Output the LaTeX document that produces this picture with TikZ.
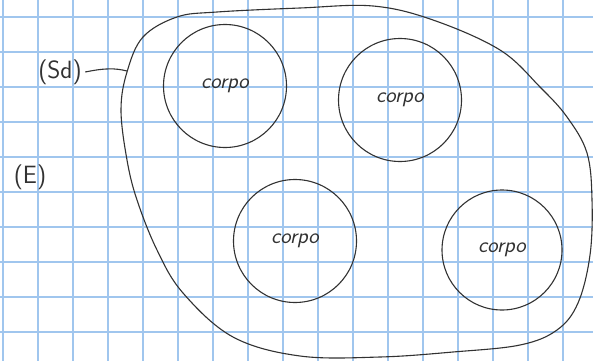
\documentclass[tikz,border=0pt]{standalone}
\usepackage{tikz}

\tikzset{
    gridline/.style={draw=gridblue, line width=1.7pt},
    corpo/.style={circle, draw=ink, line width=1.1pt, minimum size=123pt,
        inner sep=0pt, font=\sffamily\itshape\fontsize{22}{26}\selectfont, text=ink},
    handlabel/.style={font=\sffamily\fontsize{25}{30}\selectfont, text=ink}
}
\definecolor{gridblue}{RGB}{160,198,238}
\definecolor{ink}{RGB}{50,50,50}

\begin{document}
\begin{tikzpicture}[x=1pt,y=-1pt]

    \useasboundingbox (0,0) rectangle (593,361);
    \fill[white] (0,0) rectangle (593,361);

    % papel quadriculado
    \foreach \gx in {3,38,...,593}
        \draw[gridline] (\gx,0) -- (\gx,361);
    \foreach \gy in {17,52,...,361}
        \draw[gridline] (0,\gy) -- (593,\gy);

    % sistema (Sd)
    \draw[ink, line width=1.1pt] plot[smooth cycle, tension=0.6] coordinates {
        (127,72) (143,37) (177,17) (217,12) (300,8) (373,6) (433,20)
        (500,50) (540,87) (567,117) (587,153) (592,200) (590,255)
        (578,303) (557,330) (520,345) (453,352) (380,357) (300,356)
        (233,337) (183,293) (157,250) (137,200) (127,160) (121,110)};

    % corpos
    \node[corpo] (corpoA) at (225,86) {corpo};
    \node[corpo] (corpoB) at (400,100) {corpo};
    \node[corpo] (corpoC) at (295,241) {corpo};
    \node[corpo, minimum size=120pt] (corpoD) at (502,250) {corpo};

    % rotulos
    \node[handlabel] (sd) at (60,72) {(Sd)};
    \coordinate (sdfront) at (127,71);
    \draw[ink, line width=1.1pt] (sd.east) .. controls (105,68) and (115,68) .. (sdfront);
    \node[handlabel] (ext) at (30,177) {(E)};

\end{tikzpicture}
\end{document}
